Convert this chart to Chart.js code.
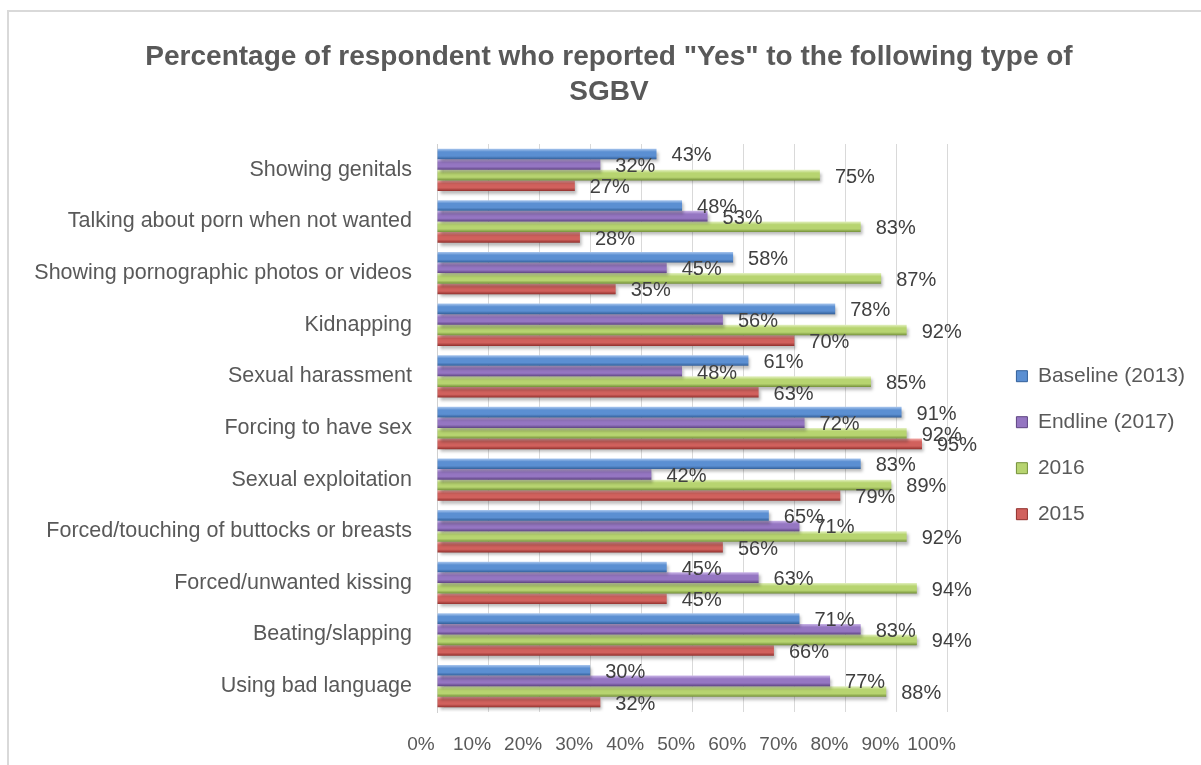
<!DOCTYPE html>
<html>
<head>
<meta charset="utf-8">
<title>SGBV survey results</title>
<script src="https://cdn.jsdelivr.net/npm/chart.js@4.4.1/dist/chart.umd.min.js"></script>
<style>
  html, body { margin: 0; padding: 0; background: #fff; overflow: hidden; }
  .chart-frame { position: absolute; left: 7px; top: 10px; border: 2px solid #d9d9d9; background: #fff; }
  #sgbvChart { display: block; }
</style>
</head>
<body>
<div class="chart-frame">
  <canvas id="sgbvChart" width="1192" height="760"></canvas>
</div>
<script>
// Survey data (% answering "Yes"), one array per survey round
const categories = [
  'Showing genitals',
  'Talking about porn when not wanted',
  'Showing pornographic photos or videos',
  'Kidnapping',
  'Sexual harassment',
  'Forcing to have sex',
  'Sexual exploitation',
  'Forced/touching of buttocks or breasts',
  'Forced/unwanted kissing',
  'Beating/slapping',
  'Using bad language'
];
const seriesNames = ['Baseline (2013)', 'Endline (2017)', '2016', '2015'];
const baseline2013 = [43, 48, 58, 78, 61, 91, 83, 65, 45, 71, 30];
const endline2017  = [32, 53, 45, 56, 48, 72, 42, 71, 63, 83, 77];
const round2016    = [75, 83, 87, 92, 85, 92, 89, 92, 94, 94, 88];
const round2015    = [27, 28, 35, 70, 63, 95, 79, 56, 45, 66, 32];
const xTickValues  = [0, 10, 20, 30, 40, 50, 60, 70, 80, 90, 100];

// light / mid / dark shades for the bevelled bars
const palettes = [
  ['#aac7ee', '#5b8fd2', '#33609a'],
  ['#cbb6e8', '#9576c2', '#5e4482'],
  ['#e4f1c2', '#b7d470', '#74903a'],
  ['#f2aaa8', '#d1615d', '#92302d']
];

const FONT = "'Liberation Sans', Arial, sans-serif";
const TEXT = '#595959';
const CATEGORY_SHARE = 0.82;
const AXIS_MAX = 108.6;   // leaves room between the 100% line and the legend

const barFill = (palette) => (ctx) => {
  const { chart, datasetIndex, dataIndex } = ctx;
  const yScale = chart.scales.y;
  if (!yScale || !chart.chartArea || dataIndex === undefined) return palette[1];
  const slot = yScale.height / categories.length * CATEGORY_SHARE;
  const barH = slot / chart.data.datasets.length;
  const top = yScale.getPixelForValue(dataIndex) - slot / 2 + datasetIndex * barH;
  const g = chart.ctx.createLinearGradient(0, top, 0, top + barH);
  g.addColorStop(0, palette[0]);
  g.addColorStop(0.3, palette[1]);
  g.addColorStop(0.7, palette[1]);
  g.addColorStop(1, palette[2]);
  return g;
};

// soft drop shadow under the bars, then the value labels on top
const barValueLabels = {
  id: 'barValueLabels',
  beforeDatasetsDraw(chart) {
    const c = chart.ctx;
    c.save();
    c.shadowColor = 'rgba(0, 0, 0, 0.28)';
    c.shadowBlur = 3;
    c.shadowOffsetX = 2;
    c.shadowOffsetY = 3;
  },
  afterDatasetsDraw(chart) {
    const c = chart.ctx;
    c.restore();
    c.save();
    c.font = '20px ' + FONT;
    c.fillStyle = '#404040';
    c.textAlign = 'left';
    c.textBaseline = 'middle';
    chart.data.datasets.forEach((ds, i) => {
      chart.getDatasetMeta(i).data.forEach((bar, j) => {
        c.fillText(ds.data[j] + '%', bar.x + 15, bar.y + 2);
      });
    });
    c.restore();
  }
};

const seriesData = [baseline2013, endline2017, round2016, round2015];

new Chart(document.getElementById('sgbvChart'), {
  type: 'bar',
  data: {
    labels: categories,
    datasets: seriesNames.map((name, i) => ({
      label: name,
      data: seriesData[i],
      backgroundColor: barFill(palettes[i]),
      borderWidth: 0,
      categoryPercentage: CATEGORY_SHARE,
      barPercentage: 1
    }))
  },
  options: {
    responsive: false,
    animation: false,
    indexAxis: 'y',
    layout: { padding: { left: 14, right: 6, top: 0, bottom: 0 } },
    plugins: {
      title: {
        display: true,
        text: ['Percentage of respondent who reported "Yes" to the following type of', 'SGBV'],
        color: TEXT,
        font: { family: FONT, size: 28, weight: 'bold', lineHeight: 35 / 28 },
        padding: { top: 27.5, bottom: 34.5 }
      },
      legend: {
        position: 'right',
        // empty title block pushes the legend items down to mid-plot
        title: { display: true, text: '', padding: { top: 92, bottom: 0 } },
        labels: {
          boxWidth: 11,
          boxHeight: 11,
          padding: 25,
          color: TEXT,
          font: { family: FONT, size: 21 },
          generateLabels(chart) {
            const items = Chart.defaults.plugins.legend.labels.generateLabels(chart);
            items.forEach((it, i) => {
              it.fillStyle = palettes[i][1];
              it.strokeStyle = palettes[i][2];
              it.lineWidth = 1;
            });
            return items;
          }
        }
      },
      tooltip: { enabled: false }
    },
    scales: {
      x: {
        min: 0,
        max: AXIS_MAX,
        afterBuildTicks(scale) {
          scale.ticks = xTickValues.map(v => ({ value: v }));
        },
        afterFit(scale) { scale.height = 60; },
        ticks: {
          callback: v => v + '%',
          color: TEXT,
          font: { family: FONT, size: 19 },
          padding: 21,
          labelOffset: -16,
          maxRotation: 0,
          minRotation: 0,
          autoSkip: false
        },
        grid: { color: '#d9d9d9', lineWidth: 1, drawTicks: false },
        border: { display: false }
      },
      y: {
        afterFit(scale) { scale.width = 414; },
        ticks: {
          color: TEXT,
          font: { family: FONT, size: 21.5 },
          padding: 25
        },
        grid: { display: false, drawTicks: false },
        border: { color: '#d0d0d0', width: 1 }
      }
    }
  },
  plugins: [barValueLabels]
});
</script>
</body>
</html>
